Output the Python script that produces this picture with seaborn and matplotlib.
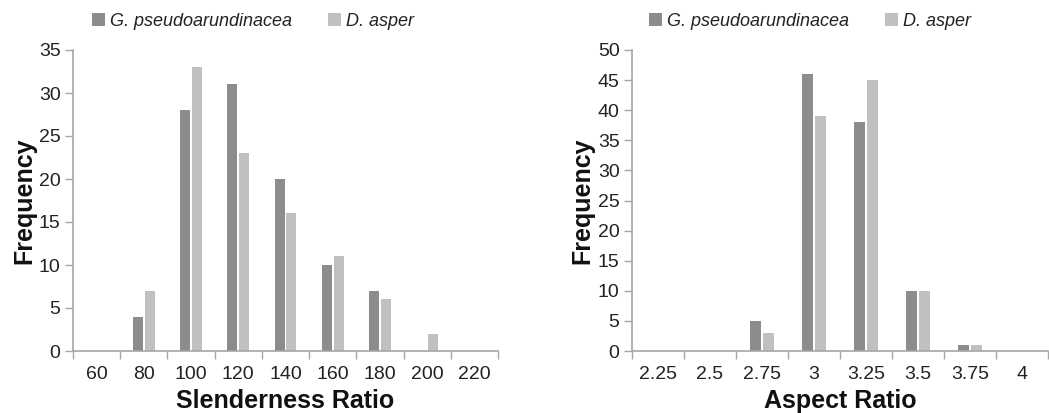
import numpy as np
import pandas as pd
import matplotlib
matplotlib.use("Agg")
import matplotlib.pyplot as plt
import seaborn as sns
from matplotlib.patches import Patch

slender_cats = ["60", "80", "100", "120", "140", "160", "180", "200", "220"]
slender_g = [0, 4, 28, 31, 20, 10, 7, 0, 0]
slender_d = [0, 7, 33, 23, 16, 11, 6, 2, 0]

aspect_cats = ["2.25", "2.5", "2.75", "3", "3.25", "3.5", "3.75", "4"]
aspect_g = [0, 0, 5, 46, 38, 10, 1, 0]
aspect_d = [0, 0, 3, 39, 45, 10, 1, 0]

series = ["G. pseudoarundinacea", "D. asper"]
colors = ["#8c8c8c", "#c0c0c0"]

sns.set_theme(style="white")
plt.rcParams["font.family"] = ["Liberation Sans", "DejaVu Sans"]

W, H = 1049, 413
fig = plt.figure(figsize=(W / 100, H / 100), dpi=100)

def make_df(cats, g, d):
    return pd.DataFrame({
        "cat": cats * 2,
        "val": g + d,
        "series": [series[0]] * len(cats) + [series[1]] * len(cats),
    })

def draw(ax, cats, g, d, ymax, xlabel, leg_anchor):
    df = make_df(cats, g, d)
    sns.barplot(data=df, x="cat", y="val", hue="series", order=cats,
                hue_order=series, palette=colors, width=0.5, gap=0.15,
                ax=ax, legend=False, linewidth=0, saturation=1)
    n = len(cats)
    ax.set_xlim(-0.5, n - 0.5)
    ax.set_ylim(0, ymax)
    ax.set_yticks(np.arange(0, ymax + 1, 5))
    ax.set_xticks(range(n))
    ax.set_xticklabels(cats)
    ax.set_xticks(np.arange(-0.5, n, 1.0), minor=True)
    ax.tick_params(axis="x", which="major", length=0, pad=11, labelsize=14, colors="#222222")
    ax.tick_params(axis="x", which="minor", length=6, width=1, color="#a6a6a6", direction="out", bottom=True)
    ax.tick_params(axis="y", which="major", length=6, width=1, color="#a6a6a6", direction="out", left=True,
                   labelsize=14, labelcolor="#222222", pad=3)
    for s in ["top", "right"]:
        ax.spines[s].set_visible(False)
    for s in ["left", "bottom"]:
        ax.spines[s].set_color("#a6a6a6")
        ax.spines[s].set_linewidth(1.2)
    ax.set_xlabel(xlabel, fontsize=18, fontweight="bold", labelpad=4, color="#111111")
    ax.set_ylabel("Frequency", fontsize=18, fontweight="bold", labelpad=2, color="#111111")
    handles = [Patch(facecolor=colors[0], edgecolor="none"), Patch(facecolor=colors[1], edgecolor="none")]
    leg = ax.legend(handles, series, loc="center", bbox_to_anchor=leg_anchor,
                    ncol=2, frameon=False, prop={"style": "italic", "size": 13},
                    handlelength=0.7, handleheight=0.7, handletextpad=0.3, columnspacing=2.0)
    for t in leg.get_texts():
        t.set_color("#222222")

ax1 = fig.add_axes([73 / W, 62 / H, 425 / W, 301 / H])
draw(ax1, slender_cats, slender_g, slender_d, 35, "Slenderness Ratio", (0.424, 1.096))

ax2 = fig.add_axes([632 / W, 62 / H, 416 / W, 301 / H])
draw(ax2, aspect_cats, aspect_g, aspect_d, 50, "Aspect Ratio", (0.428, 1.096))

fig.savefig("out.png", dpi=100)
